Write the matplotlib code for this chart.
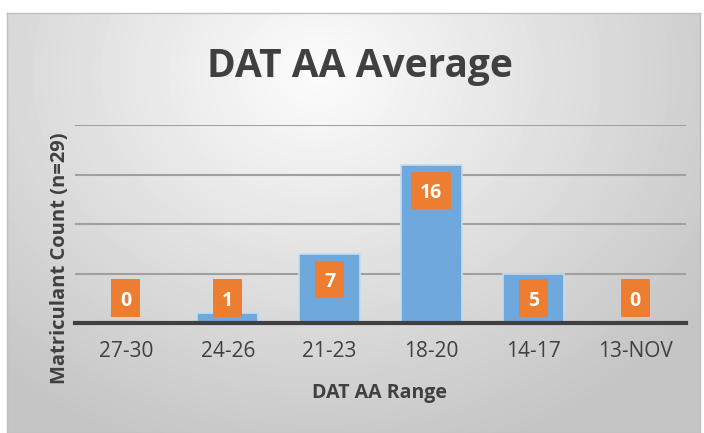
import numpy as np
import matplotlib
matplotlib.use("Agg")
import matplotlib.pyplot as plt
from matplotlib.patches import Rectangle

categories = ["27-30", "24-26", "21-23", "18-20", "14-17", "13-NOV"]
counts = [0, 1, 7, 16, 5, 0]
title = "DAT AA Average"
xlabel = "DAT AA Range"
ylabel = "Matriculant Count (n=29)"

W, H = 704, 433
fig = plt.figure(figsize=(W / 100, H / 100), dpi=100)
fig.patch.set_facecolor("white")

# gradient background panel
bg = fig.add_axes([7 / W, 0, (700 - 7) / W, (H - 13) / H], zorder=0)
yy, xx = np.mgrid[0:420, 0:693]
cx, cy = 310, 60
r = np.sqrt(((xx - cx) / 500.0) ** 2 + ((yy - cy) / 420.0) ** 2)
val = np.clip(0.99 - 0.23 * r, 0.77, 1.0)
bg.imshow(val, cmap="gray", vmin=0, vmax=1, aspect="auto", interpolation="bilinear")
bg.set_xticks([]); bg.set_yticks([])
for s in bg.spines.values():
    s.set_color("#bfbfbf"); s.set_linewidth(1)

font = "Open Sans"
fig.text(360 / W, 1 - 66 / H, title, ha="center", va="center", fontsize=28,
         fontweight="bold", color="#404040", family=font)

ax = fig.add_axes([75 / W, (H - 323) / H, 611 / W, 198 / H], zorder=1)
ax.patch.set_alpha(0)
x = np.arange(len(categories))
ax.set_xlim(-0.5, len(categories) - 0.5)
ax.set_ylim(0, 20)
for g in [5, 10, 15, 20]:
    ax.axhline(g, color="#a0a0a0", lw=1.5, zorder=1)
ax.bar(x, counts, width=0.6, color="#6fa8dc", edgecolor="#c5dcf0", linewidth=1.2, zorder=2)
ax.axhline(0, color="#404040", lw=3, zorder=3, clip_on=False)

px_per_unit_x = (611 / 6)
box_h = 3.8
for xi, v in zip(x, counts):
    yc = max(v - 0.7 - box_h / 2, 0.6 + box_h / 2)
    bw = (18 + 11 * len(str(v))) / px_per_unit_x
    ax.add_patch(Rectangle((xi - bw / 2, yc - box_h / 2), bw, box_h,
                           facecolor="#ed7d31", edgecolor="none", zorder=4))
    ax.text(xi, yc, str(v), ha="center", va="center_baseline", fontsize=14, fontweight="bold",
            color="white", family=font, zorder=5)

for s in ax.spines.values():
    s.set_visible(False)
ax.set_yticks([])
ax.set_xticks(x)
ax.set_xticklabels(categories, fontsize=15, color="#404040", family=font)
ax.tick_params(axis="x", length=0, pad=13)

fig.text(380 / W, 1 - 393 / H, xlabel, ha="center", va="center", fontsize=14,
         fontweight="bold", color="#404040", family=font)
fig.text(60 / W, 1 - 258 / H, ylabel, ha="center", va="center", rotation=90,
         fontsize=14.5, fontweight="bold", color="#404040", family=font)

fig.savefig("out.png", dpi=100)
